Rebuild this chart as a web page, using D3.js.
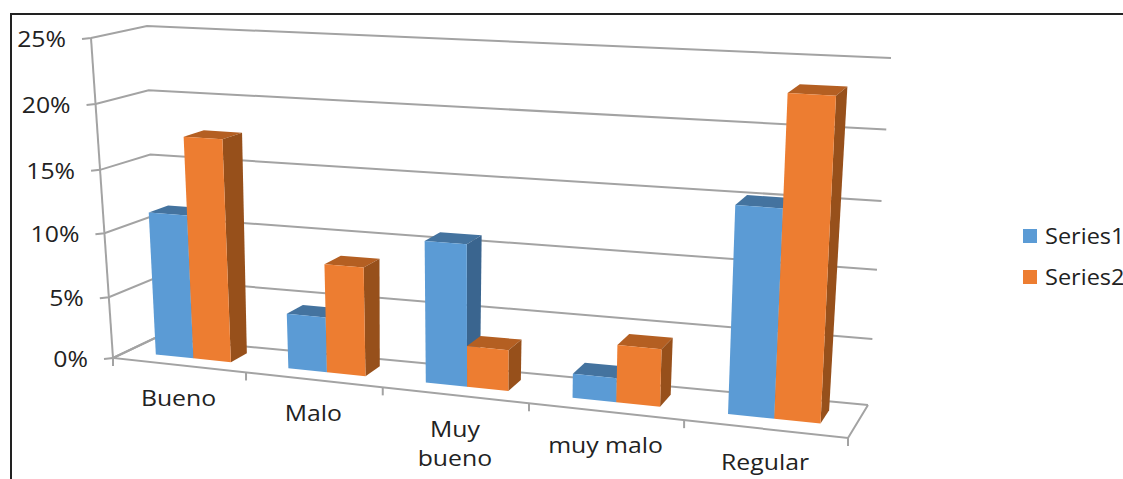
<!DOCTYPE html>
<html>
<head>
<meta charset="utf-8">
<script src="https://cdn.jsdelivr.net/npm/d3@7/dist/d3.min.js"></script>
<style>
html,body{margin:0;padding:0;background:#fff;overflow:hidden}
svg{display:block}
text{font-family:"Open Sans",sans-serif;fill:#222}
</style>
</head>
<body>
<svg id="chart" width="1123" height="479"></svg>
<script>
// Chart content
const categories = [["Bueno"], ["Malo"], ["Muy", "bueno"], ["muy malo"], ["Regular"]];
const seriesNames = ["Series1", "Series2"];
const series1 = [11.4, 4.4, 10.9, 1.85, 15.3];
const series2 = [17.5, 8.5, 3.2, 4.4, 23.3];
const valueTicks = [0, 5, 10, 15, 20, 25];

// Colours of each series: front, top and side faces
const faces = [
  {front: "#5b9bd5", top: "#44739f", side: "#3a658f"},
  {front: "#ed7d31", top: "#b45f22", side: "#97501b"}
];

// Corners of the plot box as seen in perspective: [value level][depth]
const corners = {
  leftBottom:  [[113, 358], [155, 338]],
  leftTop:     [[91, 38],   [147, 26]],
  rightBottom: [[848, 438], [868, 405]],
  rightTop:    [[864, 80],  [891, 58]]
};

// Foreshortening along the category and value directions
const uScale = d3.scaleLinear().domain(d3.range(6)).range([0, .181, .367, .566, .777, 1]);
const vScale = d3.scaleLinear().domain(valueTicks).range([0, .19, .39, .588, .794, 1]);

const mix = (a, b, t) => [a[0] + (b[0] - a[0]) * t, a[1] + (b[1] - a[1]) * t];
// Project (category position, value, depth) to the page
function project(c, value, d) {
  const u = uScale(c), v = vScale(value);
  const b = mix(mix(corners.leftBottom[0], corners.rightBottom[0], u),
                mix(corners.leftBottom[1], corners.rightBottom[1], u), d);
  const t = mix(mix(corners.leftTop[0], corners.rightTop[0], u),
                mix(corners.leftTop[1], corners.rightTop[1], u), d);
  return mix(b, t, v);
}

const svg = d3.select("#chart");
const line = d3.line();
const poly = pts => line(pts) + "Z";

// Frame around the chart area
svg.append("path").attr("d", "M11,479V14H1123").attr("fill", "none")
  .attr("stroke", "#222").attr("stroke-width", 2);

const grid = svg.append("g").attr("fill", "none").attr("stroke", "#a3a3a3").attr("stroke-width", 2);

// Gridlines on the left and back walls, with tick stubs on the left
valueTicks.forEach(v => {
  const p0 = project(0, v, 0), p1 = project(0, v, 1), p2 = project(5, v, 1);
  grid.append("path").attr("d", line([[p0[0] - 9, p0[1] + 1], p0, p1, p2]));
});
// Value axis
grid.append("path").attr("d", line([project(0, 0, 0), project(0, 25, 0)]));
// Floor outline and category ticks
grid.append("path").attr("d", line([project(0, 0, 1), project(0, 0, 0), project(5, 0, 0), project(5, 0, 1)]));
d3.range(6).forEach(i => {
  const p = project(i, 0, 0);
  grid.append("path").attr("d", line([p, [p[0], p[1] + 8]]));
});

// Bars
const pad = .22, barW = .285, depth0 = .33, depth1 = .74;
function drawBar(g, i, s, value) {
  const c0 = i + pad + s * barW, c1 = c0 + barW;
  const P = (c, v, d) => project(c, v, d);
  const f = faces[s];
  g.append("path").attr("fill", f.top)
    .attr("d", poly([P(c0, value, depth0), P(c1, value, depth0), P(c1, value, depth1), P(c0, value, depth1)]));
  g.append("path").attr("fill", f.side)
    .attr("d", poly([P(c1, 0, depth0), P(c1, value, depth0), P(c1, value, depth1), P(c1, 0, depth1)]));
  g.append("path").attr("fill", f.front)
    .attr("d", poly([P(c0, 0, depth0), P(c1, 0, depth0), P(c1, value, depth0), P(c0, value, depth0)]));
}
const bars = svg.append("g");
categories.forEach((_, i) => {
  drawBar(bars, i, 0, series1[i]);
  drawBar(bars, i, 1, series2[i]);
});

// Text, slightly widened
function label(x, y, str, anchor, size, widen) {
  svg.append("text")
    .attr("transform", `translate(${x},${y}) scale(${widen},1)`)
    .attr("text-anchor", anchor)
    .attr("dominant-baseline", "central")
    .attr("font-size", size)
    .text(str);
}
// Value labels
valueTicks.forEach(v => {
  const p = project(0, v, 0);
  label(p[0] - 25, p[1] + 1, v + "%", "end", 21, 1.18);
});
// Category labels, centred under each slot
categories.forEach((lines, i) => {
  const p = project(i + .5, 0, 0);
  lines.forEach((t, k) => label(p[0] - 1, p[1] + 33 + k * 29, t, "middle", 21, 1.18));
});
// Legend
seriesNames.forEach((name, s) => {
  const y = 236 + s * 41;
  svg.append("rect").attr("x", 1023).attr("y", y - 7).attr("width", 14).attr("height", 14).attr("fill", faces[s].front);
  label(1045, y, name, "start", 21, 1.12);
});
</script>
</body>
</html>
